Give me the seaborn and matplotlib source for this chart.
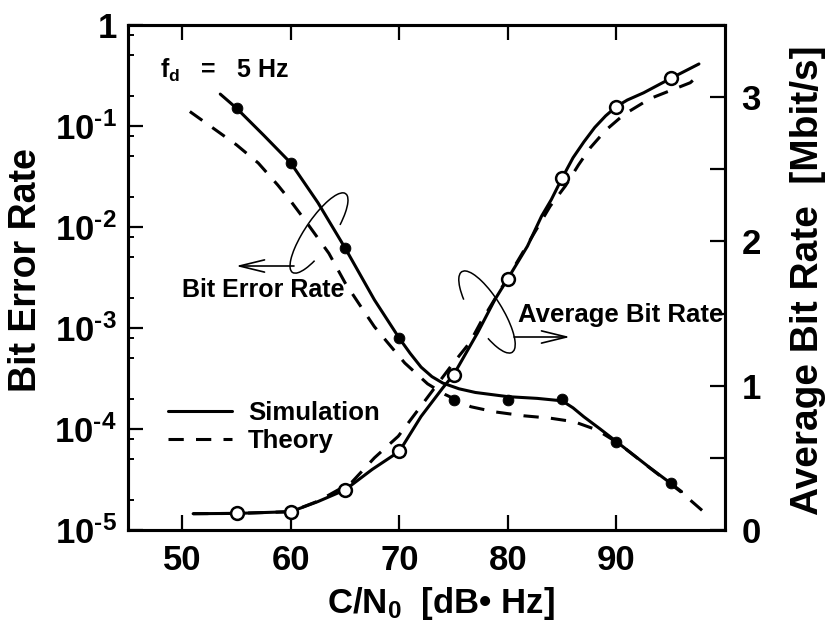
"""Bit error rate and average bit rate versus C/N0 (fd = 5 Hz)."""

import matplotlib

matplotlib.use("Agg")

import matplotlib.pyplot as plt
import matplotlib.ticker as mticker
import seaborn as sns
from matplotlib.patches import Arc


W, H, DPI = 828, 640, 100

# markers at the simulated C/N0 values [dB Hz]
cn0_points = [55, 60, 65, 70, 75, 80, 85, 90, 95]
ber_sim_points = [0.15, 0.043, 6.2e-3, 7.9e-4, 1.95e-4, 1.95e-4, 1.97e-4, 7.5e-5, 2.9e-5]
abr_sim_points = [0.115, 0.127, 0.278, 0.545, 1.076, 1.743, 2.44, 2.935, 3.13]

# bit error rate curves
ber_sim_x = [53.5, 55, 57.5, 60, 62.5, 65, 67.7, 70, 71, 72, 73, 74, 75.5, 77, 80, 82.7, 85,
             86, 87, 88.5, 90, 93, 95, 96]
ber_sim_y = [0.207, 0.15, 0.081, 0.043, 0.0174, 0.0062, 1.9e-3, 7.9e-4, 5.6e-4, 4.1e-4,
             3.3e-4, 2.85e-4, 2.5e-4, 2.3e-4, 2.09e-4, 2.01e-4, 1.9e-4, 1.62e-4, 1.32e-4,
             1.0e-4, 7.5e-5, 4.2e-5, 2.9e-5, 2.4e-5]
ber_theory_x = [50.7, 53.1, 55.0, 57.0, 58.8, 60.0, 61.3, 63.5, 65.0, 66.5, 67.7, 69.0, 70.5,
                72.6, 74.2, 76.6, 78.75, 81.5, 83.9, 86.1, 88.2, 90.2, 93.1, 95.9, 97.9]
ber_theory_y = [0.139, 0.091, 0.065, 0.043, 0.026, 0.018, 0.0117, 0.0055, 2.8e-3, 1.6e-3,
                1.03e-3, 7.0e-4, 4.5e-4, 2.8e-4, 2.2e-4, 1.66e-4, 1.48e-4, 1.35e-4, 1.28e-4,
                1.18e-4, 9.8e-5, 7.2e-5, 4.1e-5, 2.4e-5, 1.56e-5]

# average bit rate curves [Mbit/s]
abr_sim_x = [51, 55, 60, 62.5, 65, 67.5, 70, 72, 74, 75, 77.2, 78.8, 80, 81.8, 83.1, 84, 85,
             86, 87, 88, 89, 90, 91, 92.5, 95, 97.6]
abr_sim_y = [0.113, 0.115, 0.127, 0.197, 0.278, 0.42, 0.545, 0.787, 0.985, 1.076, 1.366,
             1.597, 1.743, 1.967, 2.175, 2.29, 2.44, 2.58, 2.69, 2.79, 2.87, 2.935, 2.98,
             3.03, 3.13, 3.23]
abr_theory_x = [51, 55, 60, 62.5, 65.6, 67.7, 69.9, 72.0, 74.9, 76.5, 77.5, 80.0, 83.9, 85.3,
                86.5, 87.6, 89, 90.7, 93.1, 96.8, 97.7]
abr_theory_y = [0.113, 0.115, 0.127, 0.20, 0.33, 0.50, 0.65, 0.86, 1.15, 1.30, 1.44, 1.75,
                2.245, 2.385, 2.53, 2.65, 2.77, 2.88, 2.99, 3.10, 3.16]

cn0_ticks = [50, 60, 70, 80, 90]
cn0_tick_labels = ["50", "60", "70", "80", "90"]
ber_ticks = [1e-5, 1e-4, 1e-3, 1e-2, 1e-1, 1]
ber_tick_labels = ["10$^{‐5}$", "10$^{‐4}$", "10$^{‐3}$", "10$^{‐2}$", "10$^{‐1}$", "1"]
abr_ticks = [0, 0.5, 1, 1.5, 2, 2.5, 3, 3.5]
abr_tick_labels = ["0", "", "1", "", "2", "", "3", ""]


def fig_frac(px, py):
    # pixel position measured from the top-left corner -> figure fraction
    return px / W, 1 - py / H


def fig_inch(px, py):
    return px / DPI, (H - py) / DPI


sns.set_theme(style="ticks")
plt.rcParams.update({
    "font.family": ["Liberation Sans", "DejaVu Sans"],
    "font.weight": "bold",
    "axes.labelweight": "bold",
    "mathtext.fontset": "custom",
    "mathtext.rm": "Liberation Sans:bold",
    "mathtext.it": "Liberation Sans:bold",
    "mathtext.bf": "Liberation Sans:bold",
    "mathtext.default": "rm",
    "text.color": "black",
    "axes.labelcolor": "black",
    "axes.edgecolor": "black",
    "xtick.color": "black",
    "ytick.color": "black",
})

fig = plt.figure(figsize=(W / DPI, H / DPI), dpi=DPI)
ax = fig.add_axes([128 / W, 1 - 530 / H, 597 / W, 505 / H])
ax.set_yscale("log")
ax2 = ax.twinx()

line_kw = dict(color="black", linewidth=2.2)
dashed = (0, (5, 4))

sns.lineplot(x=ber_sim_x, y=ber_sim_y, ax=ax, label="Simulation", **line_kw)
sns.lineplot(x=ber_theory_x, y=ber_theory_y, ax=ax, label="Theory", linestyle=dashed, **line_kw)
sns.scatterplot(x=cn0_points, y=ber_sim_points, ax=ax, color="black", edgecolor="black",
                s=60, zorder=4)

sns.lineplot(x=abr_sim_x, y=abr_sim_y, ax=ax2, **line_kw)
sns.lineplot(x=abr_theory_x, y=abr_theory_y, ax=ax2, linestyle=dashed, **line_kw)
sns.scatterplot(x=cn0_points, y=abr_sim_points, ax=ax2, color="black", facecolor="white",
                edgecolor="black", linewidth=1.8, s=85, zorder=4)

# axes limits and ticks
ax.set_xlim(45, 100)
ax.set_ylim(1e-5, 1)
ax2.set_ylim(0, 3.5)

ax.xaxis.set_major_locator(mticker.FixedLocator(cn0_ticks))
ax.xaxis.set_major_formatter(mticker.FixedFormatter(cn0_tick_labels))
ax.xaxis.set_minor_locator(mticker.NullLocator())
ax.yaxis.set_major_locator(mticker.FixedLocator(ber_ticks))
ax.yaxis.set_major_formatter(mticker.FixedFormatter(ber_tick_labels))
ax.yaxis.set_minor_locator(mticker.LogLocator(base=10, subs=(2, 5, 8), numticks=20))
ax.yaxis.set_minor_formatter(mticker.NullFormatter())
ax2.yaxis.set_major_locator(mticker.FixedLocator(abr_ticks))
ax2.yaxis.set_major_formatter(mticker.FixedFormatter(abr_tick_labels))
ax2.yaxis.set_minor_locator(mticker.NullLocator())

ax.tick_params(axis="both", which="major", direction="in", length=11, width=1.6,
               labelsize=25, top=True)
ax.tick_params(axis="x", which="major", pad=10)
ax.tick_params(axis="y", which="major", pad=8)
ax.tick_params(axis="y", which="minor", direction="in", length=4.5, width=1.4)
ax2.tick_params(axis="y", which="major", direction="in", length=11, width=1.6,
                labelsize=25, pad=12)

for a in (ax, ax2):
    for spine in a.spines.values():
        spine.set_linewidth(2.2)
        spine.set_color("black")

# axis titles
ax.set_xlabel("C/N$_0$  [dB• Hz]", fontsize=25, fontweight="bold")
ax.xaxis.set_label_coords(0.524, -0.108)
ax.set_ylabel("Bit Error Rate", fontsize=27, fontweight="bold")
ax.yaxis.set_label_coords(-0.141, 0.515)
ax2.set_ylabel("Average Bit Rate  [Mbit/s]", fontsize=28, fontweight="bold")
ax2.yaxis.set_label_coords(1.109, 0.495)

# legend
ax.legend(loc="center left", bbox_to_anchor=fig_frac(168, 427), bbox_transform=fig.transFigure,
          frameon=False, fontsize=18.5, handlelength=2.5, handletextpad=0.62,
          labelspacing=0.15, borderpad=0, borderaxespad=0)

# annotations
fig.text(*fig_frac(160, 70), "f$_d$   =   5 Hz", fontsize=18, fontweight="bold",
         ha="left", va="center")
fig.text(*fig_frac(182, 290), "Bit Error Rate", fontsize=18, fontweight="bold",
         ha="left", va="center")
fig.text(*fig_frac(518, 315), "Average Bit Rate", fontsize=18.5, fontweight="bold",
         ha="left", va="center")

arrow_kw = dict(arrowstyle="->,head_length=0.9,head_width=0.22", lw=1.2, color="black",
                mutation_scale=20, shrinkA=0, shrinkB=0)
ax.annotate("", xy=fig_frac(236, 266), xytext=fig_frac(294, 266), xycoords="figure fraction",
            textcoords="figure fraction", arrowprops=arrow_kw)
ax.annotate("", xy=fig_frac(570, 337), xytext=fig_frac(514, 337), xycoords="figure fraction",
            textcoords="figure fraction", arrowprops=arrow_kw)

fig.add_artist(Arc(fig_inch(319, 233), 0.95, 0.28, angle=56, theta1=-35, theta2=205,
                   transform=fig.dpi_scale_trans, lw=1.1, color="black"))
fig.add_artist(Arc(fig_inch(487, 312), 0.95, 0.30, angle=-58, theta1=-30, theta2=210,
                   transform=fig.dpi_scale_trans, lw=1.1, color="black"))

fig.savefig("out.png", dpi=DPI)
